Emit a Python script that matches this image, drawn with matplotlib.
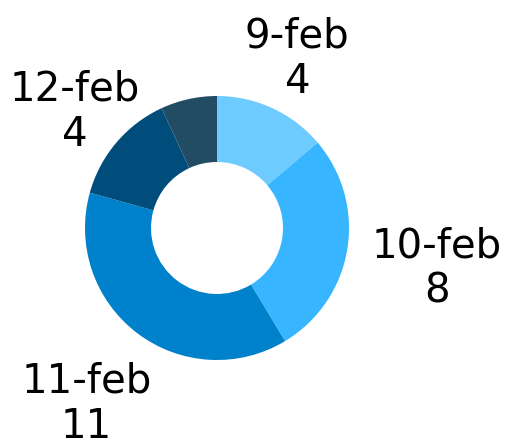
import numpy as np
import matplotlib
matplotlib.use("Agg")
import matplotlib.pyplot as plt

categories = ["9-feb", "10-feb", "11-feb", "12-feb", ""]
values = [4, 8, 11, 4, 2]
colors = ["#6ECBFF", "#38B5FF", "#0081CB", "#004D7C", "#214C63"]
label_r = [1.45, 1.69, 1.635, 1.41, 0]

plt.rcParams['font.family'] = ['DejaVu Sans']

W, H = 505, 446
fig = plt.figure(figsize=(W / 100, H / 100), dpi=100)
ax = fig.add_axes([0, 0, 1, 1])
cx, cy, R = 217, 228, 132

wedges, _ = ax.pie(values, colors=colors, startangle=90, counterclock=False,
                   radius=1, wedgeprops=dict(width=0.5, linewidth=0),
                   frame=True)
ax.set_xlim(-cx / R, (W - cx) / R)
ax.set_ylim(-(H - cy) / R, cy / R)
ax.set_aspect('equal')
ax.axis('off')

total = sum(values)
cum = 0
for cat, v, r in zip(categories, values, label_r):
    mid = (cum + v / 2) / total * 2 * np.pi
    cum += v
    if not cat:
        continue
    x = r * np.sin(mid)
    y = r * np.cos(mid) - 0.035
    ax.text(x, y, f"{cat}\n{v}", ha='center', va='center', fontsize=29,
            linespacing=1.17, color='black')

fig.savefig("out.png", dpi=100)
